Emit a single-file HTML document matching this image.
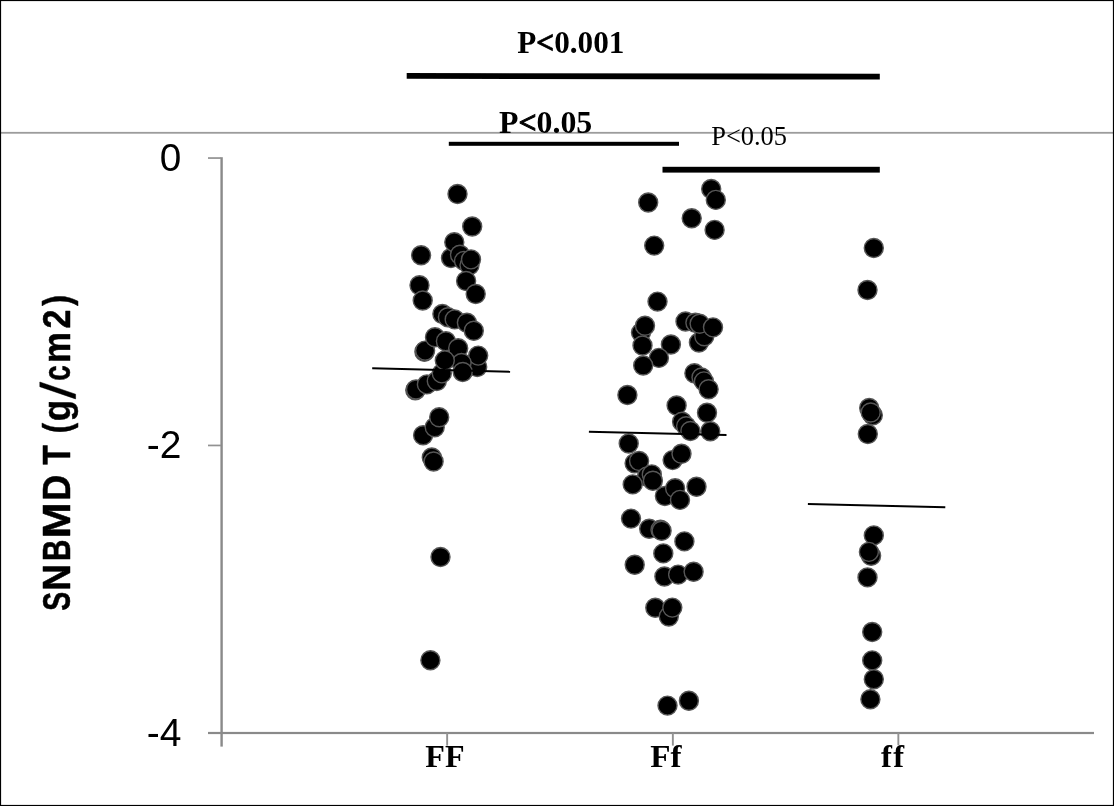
<!DOCTYPE html>
<html><head><meta charset="utf-8"><title>chart</title>
<style>
html,body{margin:0;padding:0;background:#fff;}
body{width:1114px;height:806px;overflow:hidden;position:relative;font-family:"Liberation Sans",sans-serif;}
svg{position:absolute;left:0;top:0;display:block;}
.sans{font-family:"Liberation Sans",sans-serif;}
.serif{font-family:"Liberation Serif",serif;}
text{font-variant-ligatures:none;}
</style></head><body>
<svg width="1114" height="806" viewBox="0 0 1114 806">
<defs><filter id="bl" x="0" y="0" width="1114" height="806" filterUnits="userSpaceOnUse"><feGaussianBlur stdDeviation="0.4"/></filter></defs>
<rect x="0" y="0" width="1114" height="806" fill="#fff"/>
<g filter="url(#bl)">
<rect x="-5" y="-5" width="1124" height="816" fill="#fff"/>
<!-- gray separator -->
<rect x="0" y="131.9" width="1114" height="1.8" fill="#9c9c9c"/>
<!-- axes -->
<g fill="#8a8a8a">
<rect x="220.4" y="157.2" width="2.4" height="589.4"/>
<rect x="208" y="731.9" width="886" height="2.2"/>
</g>
<g fill="#929292">
<rect x="208" y="157.2" width="13" height="1.7"/>
<rect x="208" y="444.6" width="13" height="1.7"/>
<rect x="446.2" y="733" width="1.9" height="12.6"/>
<rect x="671.9" y="733" width="1.9" height="12.6"/>
<rect x="897.4" y="733" width="1.9" height="12.2"/>
</g>
<!-- y labels -->
<g fill="#000">
<text class="sans" font-size="38.8" transform="translate(159.75,170.60) scale(0.9985,1.0000)" >0</text>
<text class="sans" font-size="38.8" transform="translate(146.85,457.90) scale(1.0049,1.0000)" >-2</text>
<text class="sans" font-size="38.8" transform="translate(146.84,745.80) scale(1.0056,1.0000)" >-4</text>
</g>
<!-- y title -->
<g fill="#000" stroke="#000" stroke-width="0.5" stroke-linejoin="round">
<text class="sans" font-size="38.3" font-weight="bold" transform="translate(69.80,610.80) rotate(-90) scale(0.7429,1)">S</text>
<text class="sans" font-size="38.3" font-weight="bold" transform="translate(69.80,590.84) rotate(-90) scale(0.9644,1)">N</text>
<text class="sans" font-size="38.3" font-weight="bold" transform="translate(69.80,561.04) rotate(-90) scale(0.7704,1)">B</text>
<text class="sans" font-size="38.3" font-weight="bold" transform="translate(69.80,538.26) rotate(-90) scale(1.1267,1)">M</text>
<text class="sans" font-size="38.3" font-weight="bold" transform="translate(69.80,500.79) rotate(-90) scale(0.9421,1)">D</text>
<text class="sans" font-size="38.3" font-weight="bold" transform="translate(69.80,464.65) rotate(-90) scale(0.8400,1)">T</text>
<text class="sans" font-size="38.3" font-weight="bold" transform="translate(69.80,433.30) rotate(-90) scale(0.8113,1)">(</text>
<text class="sans" font-size="38.3" font-weight="bold" transform="translate(69.80,421.34) rotate(-90) scale(0.9100,1)">g</text>
<text class="sans" font-size="38.3" font-weight="bold" transform="translate(69.80,380.77) rotate(-90) scale(0.7284,1)">c</text>
<text class="sans" font-size="38.3" font-weight="bold" transform="translate(69.80,362.92) rotate(-90) scale(0.9108,1)">m</text>
<text class="sans" font-size="38.3" font-weight="bold" transform="translate(69.80,328.44) rotate(-90) scale(0.8866,1)">2</text>
<text class="sans" font-size="38.3" font-weight="bold" transform="translate(69.80,305.83) rotate(-90) scale(0.8486,1)">)</text>
<polygon points="75.6,398.9 75.6,394.2 39.8,382.0 39.8,386.7" fill="#000"/>
</g>
<!-- x labels -->
<g fill="#000">
<text class="serif" font-size="31.8" font-weight="bold" transform="translate(425.34,766.90) scale(1.0101,1.0000)" >FF</text>
<text class="serif" font-size="31.8" font-weight="bold" transform="translate(650.22,766.90) scale(1.0426,1.0000)" >Ff</text>
<text class="serif" font-size="31.8" font-weight="bold" transform="translate(881.05,766.90) scale(1.0326,1.0000)" >f</text>
<text class="serif" font-size="31.8" font-weight="bold" transform="translate(893.16,766.90) scale(1.0232,1.0000)" >f</text>
</g>
<!-- p labels -->
<g fill="#000">
<text class="serif" font-size="31.0" font-weight="bold" transform="translate(517.25,52.80) scale(1.0081,1.0000)" >P<tspan stroke="#000" stroke-width="0.9">&lt;</tspan>0.001</text>
<text class="serif" font-size="32.4" font-weight="bold" transform="translate(498.94,133.10) scale(0.9823,1.0000)" >P<tspan stroke="#000" stroke-width="0.9">&lt;</tspan>0.05</text>
<text class="serif" font-size="27.8" transform="translate(711.21,144.50) scale(0.9507,1.0000)" >P&lt;0.05</text>
</g>
<!-- bars -->
<polygon points="406.7,73.0 879.8,73.8 879.8,79.6 406.7,78.8" fill="#000"/>
<rect x="448.8" y="141.8" width="230.2" height="4" fill="#000"/>
<rect x="662.5" y="166.8" width="217.3" height="5.8" fill="#000"/>
<!-- dots -->
<g fill="#000" stroke="#575757" stroke-width="1.4">
<circle cx="457.5" cy="194" r="9.5"/>
<circle cx="472.2" cy="226.5" r="9.5"/>
<circle cx="451" cy="258" r="9.5"/>
<circle cx="454.3" cy="242.3" r="9.5"/>
<circle cx="421.1" cy="255.3" r="9.5"/>
<circle cx="460" cy="254.7" r="9.5"/>
<circle cx="464" cy="260.9" r="9.5"/>
<circle cx="469.5" cy="265.3" r="9.5"/>
<circle cx="471" cy="259.4" r="9.5"/>
<circle cx="466.1" cy="281" r="9.5"/>
<circle cx="475.7" cy="294" r="9.5"/>
<circle cx="419.5" cy="285.2" r="9.5"/>
<circle cx="422.7" cy="300.5" r="9.5"/>
<circle cx="442.4" cy="314" r="9.5"/>
<circle cx="447.9" cy="317.2" r="9.5"/>
<circle cx="454.7" cy="319.4" r="9.5"/>
<circle cx="466.9" cy="322.8" r="9.5"/>
<circle cx="473.8" cy="330.8" r="9.5"/>
<circle cx="424.4" cy="351.8" r="9.5"/>
<circle cx="425.1" cy="350.6" r="9.5"/>
<circle cx="435" cy="337.2" r="9.5"/>
<circle cx="445.9" cy="341.2" r="9.5"/>
<circle cx="458.2" cy="348.3" r="9.5"/>
<circle cx="477.2" cy="367" r="9.5"/>
<circle cx="478.2" cy="355.6" r="9.5"/>
<circle cx="461.6" cy="363" r="9.5"/>
<circle cx="462.7" cy="372" r="9.5"/>
<circle cx="415.3" cy="390.2" r="9.5"/>
<circle cx="416" cy="389.5" r="9.5"/>
<circle cx="426.9" cy="384.4" r="9.5"/>
<circle cx="436.8" cy="381" r="9.5"/>
<circle cx="441.8" cy="373.4" r="9.5"/>
<circle cx="444.8" cy="360.4" r="9.5"/>
<circle cx="423.1" cy="435.2" r="9.5"/>
<circle cx="434.7" cy="427.3" r="9.5"/>
<circle cx="439.2" cy="417.3" r="9.5"/>
<circle cx="431.8" cy="457.5" r="9.5"/>
<circle cx="433.6" cy="461.5" r="9.5"/>
<circle cx="440.5" cy="557" r="9.5"/>
<circle cx="430.4" cy="660.3" r="9.5"/>
<circle cx="711.2" cy="189" r="9.5"/>
<circle cx="715.8" cy="199.9" r="9.5"/>
<circle cx="648.2" cy="202.5" r="9.5"/>
<circle cx="691.7" cy="218.3" r="9.5"/>
<circle cx="714.6" cy="229.9" r="9.5"/>
<circle cx="654.2" cy="245.6" r="9.5"/>
<circle cx="657.5" cy="301.6" r="9.5"/>
<circle cx="698.9" cy="342.5" r="9.5"/>
<circle cx="704.3" cy="336.2" r="9.5"/>
<circle cx="685.5" cy="321.5" r="9.5"/>
<circle cx="695.4" cy="322.7" r="9.5"/>
<circle cx="699.6" cy="323.7" r="9.5"/>
<circle cx="713" cy="327.4" r="9.5"/>
<circle cx="641" cy="332.6" r="9.5"/>
<circle cx="645" cy="325.7" r="9.5"/>
<circle cx="670.9" cy="344.5" r="9.5"/>
<circle cx="642.5" cy="345.5" r="9.5"/>
<circle cx="658.9" cy="357.9" r="9.5"/>
<circle cx="643.2" cy="365.5" r="9.5"/>
<circle cx="694.4" cy="373.3" r="9.5"/>
<circle cx="701.5" cy="377.5" r="9.5"/>
<circle cx="703.9" cy="381.4" r="9.5"/>
<circle cx="708.6" cy="389.2" r="9.5"/>
<circle cx="627.4" cy="395" r="9.5"/>
<circle cx="676.6" cy="405.5" r="9.5"/>
<circle cx="707" cy="412.7" r="9.5"/>
<circle cx="682.1" cy="421.7" r="9.5"/>
<circle cx="686.1" cy="426.3" r="9.5"/>
<circle cx="690.4" cy="431" r="9.5"/>
<circle cx="710.3" cy="431.2" r="9.5"/>
<circle cx="628.7" cy="443.5" r="9.5"/>
<circle cx="672.6" cy="460.1" r="9.5"/>
<circle cx="681.5" cy="453.8" r="9.5"/>
<circle cx="634.6" cy="463.2" r="9.5"/>
<circle cx="639.1" cy="461" r="9.5"/>
<circle cx="647.1" cy="476.5" r="9.5"/>
<circle cx="651.8" cy="474.4" r="9.5"/>
<circle cx="652.9" cy="480.7" r="9.5"/>
<circle cx="632.7" cy="484.4" r="9.5"/>
<circle cx="696.5" cy="486.8" r="9.5"/>
<circle cx="664.9" cy="496" r="9.5"/>
<circle cx="675.1" cy="488.3" r="9.5"/>
<circle cx="680" cy="499.9" r="9.5"/>
<circle cx="631" cy="518.6" r="9.5"/>
<circle cx="649.2" cy="528.7" r="9.5"/>
<circle cx="660.5" cy="529.8" r="9.5"/>
<circle cx="661.6" cy="530.8" r="9.5"/>
<circle cx="684.4" cy="541.4" r="9.5"/>
<circle cx="663.3" cy="553.4" r="9.5"/>
<circle cx="634.7" cy="564.7" r="9.5"/>
<circle cx="664.4" cy="576.5" r="9.5"/>
<circle cx="678.1" cy="574.6" r="9.5"/>
<circle cx="693.6" cy="571.7" r="9.5"/>
<circle cx="655.3" cy="607.7" r="9.5"/>
<circle cx="668.8" cy="616.5" r="9.5"/>
<circle cx="672.3" cy="607.6" r="9.5"/>
<circle cx="667.5" cy="705.6" r="9.5"/>
<circle cx="688.9" cy="700.7" r="9.5"/>
<circle cx="873.8" cy="248" r="9.5"/>
<circle cx="867.5" cy="290" r="9.5"/>
<circle cx="869.2" cy="408" r="9.5"/>
<circle cx="872.8" cy="415.3" r="9.5"/>
<circle cx="870.7" cy="412.5" r="9.5"/>
<circle cx="867.8" cy="434" r="9.5"/>
<circle cx="873.8" cy="535.4" r="9.5"/>
<circle cx="871.1" cy="555.7" r="9.5"/>
<circle cx="868.9" cy="551.9" r="9.5"/>
<circle cx="867.5" cy="577.4" r="9.5"/>
<circle cx="872.2" cy="632" r="9.5"/>
<circle cx="872.2" cy="660.4" r="9.5"/>
<circle cx="873.8" cy="679.3" r="9.5"/>
<circle cx="870.4" cy="699.2" r="9.5"/>
</g>
<!-- medians -->
<g stroke="#000" stroke-width="2">
<line x1="372.2" y1="368.2" x2="510.1" y2="371.8"/>
<line x1="588.9" y1="431.7" x2="726.5" y2="434.9"/>
<line x1="807.9" y1="504" x2="945.3" y2="507.3"/>
</g>
</g>
<!-- border -->
<rect x="0.55" y="0.55" width="1112.9" height="804.9" fill="none" stroke="#000" stroke-width="1.1"/>
</svg>
</body></html>
